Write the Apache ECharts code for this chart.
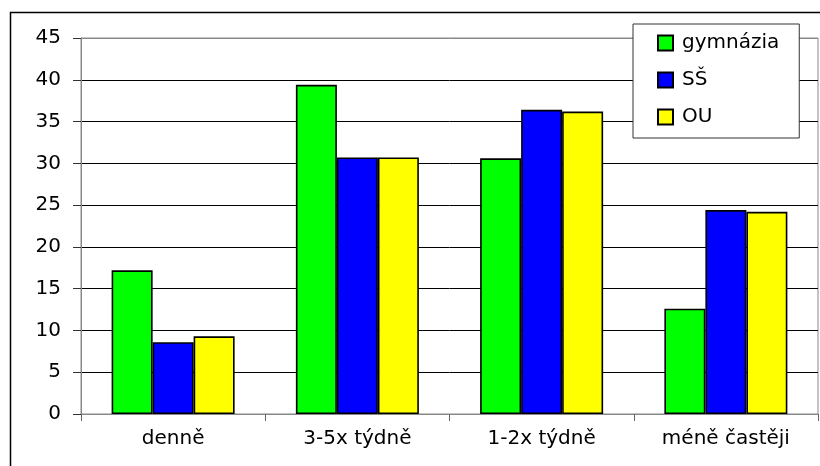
<!DOCTYPE html>
<html>
<head>
<meta charset="utf-8">
<script src="https://cdn.jsdelivr.net/npm/echarts@6/dist/echarts.min.js"></script>
<style>
  html, body { margin: 0; padding: 0; background: #fff; }
  #chart { width: 820px; height: 466px; }
</style>
</head>
<body>
<div id="chart"></div>
<script>
// chart data
var categories = ['denně', '3-5x týdně', '1-2x týdně', 'méně častěji'];
var seriesNames = ['gymnázia', 'SŠ', 'OU'];
var gymnazia = [17.2, 39.4, 30.6, 12.6];
var ss = [8.6, 30.7, 36.4, 24.4];
var ou = [9.3, 30.7, 36.2, 24.2];
var barColors = ['#00ff00', '#0000ff', '#ffff00'];

var chart = echarts.init(document.getElementById('chart'));
var font = 'DejaVu Sans';

function makeSeries(name, data, color) {
  return {
    name: name,
    type: 'bar',
    data: data,
    barWidth: 41,
    barGap: '0%',
    itemStyle: { color: color, borderColor: '#000', borderWidth: 1.6 }
  };
}

var option = {
  animation: false,
  backgroundColor: '#fff',
  textStyle: { fontFamily: font },
  graphic: [{
    type: 'rect',
    shape: { x: 10.5, y: 12.5, width: 830, height: 500 },
    style: { fill: 'none', stroke: '#000', lineWidth: 1.5 },
    silent: true
  }],
  legend: {
    orient: 'vertical',
    left: 633,
    top: 24,
    backgroundColor: '#fff',
    borderColor: '#333',
    borderWidth: 1,
    padding: [9, 20, 11, 24],
    itemWidth: 15,
    itemHeight: 15,
    itemGap: 17,
    icon: 'rect',
    textStyle: { fontFamily: font, fontSize: 20, color: '#000', padding: [0, 0, 0, 4] },
    data: seriesNames
  },
  grid: {
    left: 81,
    top: 38,
    right: 2,
    bottom: 52,
    show: true,
    borderColor: '#888',
    borderWidth: 1
  },
  xAxis: {
    type: 'category',
    data: categories,
    axisLine: { lineStyle: { color: '#888', width: 1 } },
    axisTick: { show: true, length: 7, lineStyle: { color: '#666' } },
    axisLabel: { color: '#000', fontSize: 20, fontFamily: font, margin: 15 }
  },
  yAxis: {
    type: 'value',
    min: 0,
    max: 45,
    interval: 5,
    axisLine: { show: true, lineStyle: { color: '#888', width: 1 } },
    axisTick: { show: true, length: 8, lineStyle: { color: '#333' } },
    axisLabel: { color: '#000', fontSize: 20, fontFamily: font, margin: 20 },
    splitLine: {
      lineStyle: {
        color: ['#888', '#000', '#000', '#000', '#000', '#000', '#000', '#000', '#000', '#888'],
        width: 1
      }
    }
  },
  series: [
    makeSeries(seriesNames[0], gymnazia, barColors[0]),
    makeSeries(seriesNames[1], ss, barColors[1]),
    makeSeries(seriesNames[2], ou, barColors[2])
  ]
};

chart.setOption(option);
</script>
</body>
</html>
